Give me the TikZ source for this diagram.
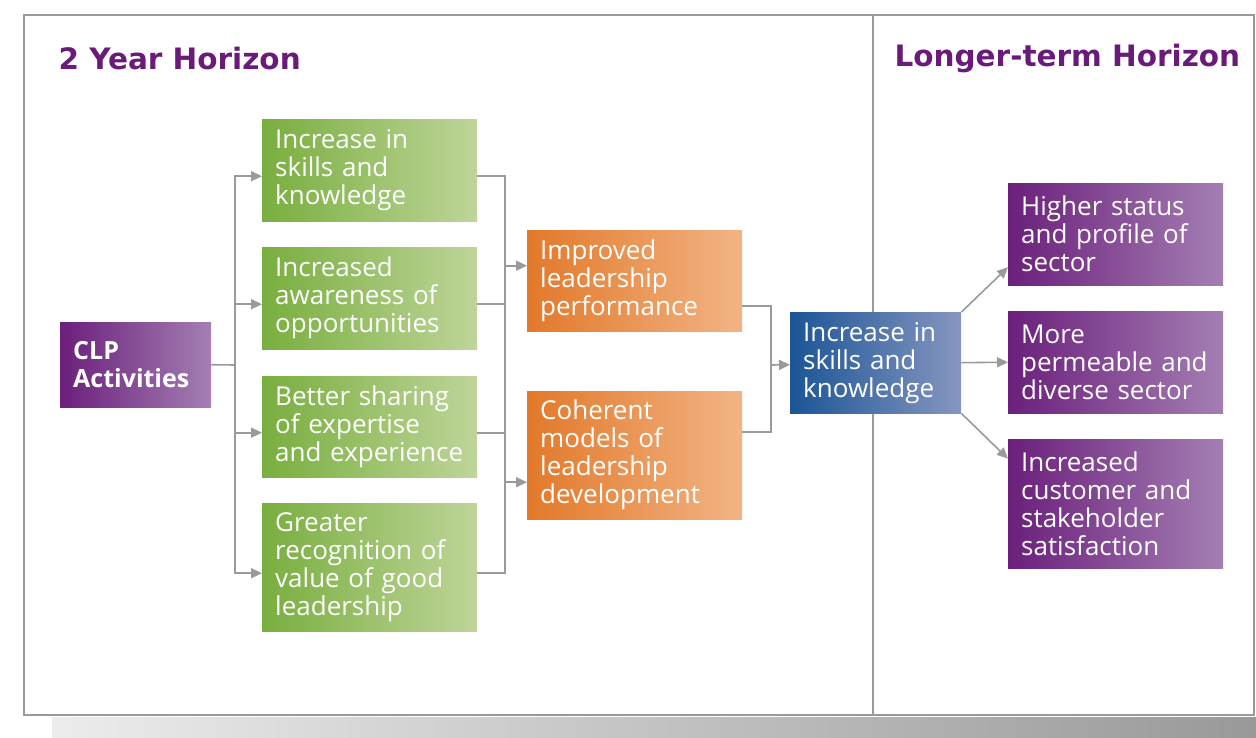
\documentclass[tikz,border=0pt]{standalone}
\usepackage{fontspec}
\setmainfont{Open Sans}
\newfontfamily\headfont{DejaVu Sans}
\usetikzlibrary{arrows.meta,positioning}

\definecolor{hzpurple}{HTML}{6A1B7A}
\definecolor{grnL}{HTML}{79AE3F}
\definecolor{grnR}{HTML}{BED599}
\definecolor{orgL}{HTML}{E2792A}
\definecolor{orgR}{HTML}{F2B485}
\definecolor{bluL}{HTML}{1B5596}
\definecolor{bluR}{HTML}{8796C0}
\definecolor{purL}{HTML}{6B1F7B}
\definecolor{purR}{HTML}{A47FB3}
\definecolor{connGray}{HTML}{9A9A9A}

\begin{document}
\begin{tikzpicture}[x=1pt,y=-1pt,
  box/.style={anchor=north west, text=white, align=left, inner xsep=13pt,
    inner ysep=0pt, font=\fontsize{26}{28}\selectfont},
  grnbox/.style={box, left color=grnL, right color=grnR, text width=189pt},
  orgbox/.style={box, left color=orgL, right color=orgR, text width=189pt},
  blubox/.style={box, left color=bluL, right color=bluR, text width=145pt},
  purbox/.style={box, left color=purL, right color=purR, text width=189pt},
  title/.style={anchor=west, text=hzpurple, font=\headfont\bfseries\fontsize{29.5}{32}\selectfont},
  conn/.style={draw=connGray, line width=1.6pt},
  arr/.style={conn, -{Triangle[length=11pt,width=10pt]}}]
  \useasboundingbox (0,0) rectangle (1256,737);

  % frame, divider and shadow strip
  \shade[left color=gray!15, right color=gray!80] (52,717) rectangle (1256,737);
  \draw[draw=gray!80, line width=2pt] (24,15) rectangle (1254,715);
  \draw[draw=gray!80, line width=2pt] (873,15) -- (873,715);

  % headings
  \node[title] (short) at (55,58) {2 Year Horizon};
  \node[title] (long) at (891,58) {Longer-term Horizon};

  % boxes
  \node[box, left color=purL, right color=purR, text width=125pt, minimum height=85pt,
    font=\bfseries\fontsize{25}{28}\selectfont] (clp) at (60,322) {CLP\\Activities};
  \node[grnbox, minimum height=102pt] (g1) at (262,119) {Increase in\\skills and\\knowledge};
  \node[grnbox, minimum height=102pt] (g2) at (262,247) {Increased\\awareness of\\opportunities};
  \node[grnbox, minimum height=101pt] (g3) at (262,376) {Better sharing\\of expertise\\and experience};
  \node[grnbox, minimum height=128pt] (g4) at (262,503) {Greater\\recognition of\\value of good\\leadership};
  \node[orgbox, minimum height=101pt] (o1) at (527,230) {Improved\\leadership\\performance};
  \node[orgbox, minimum height=128pt] (o2) at (527,391) {Coherent\\models of\\leadership\\development};
  \node[blubox, minimum height=101pt] (skills) at (790,312) {Increase in\\skills and\\knowledge};
  \node[purbox, minimum height=102pt] (p1) at (1008,183) {Higher status\\and profile of\\sector};
  \node[purbox, minimum height=102pt] (p2) at (1008,311) {More\\permeable and\\diverse sector};
  \node[purbox, minimum height=129pt] (p3) at (1008,439) {Increased\\customer and\\stakeholder\\satisfaction};

  % connectors
  \coordinate (bus1) at (235,365);
  \coordinate (bus2) at (505,370);
  \coordinate (bus3) at (771,365);
  \draw[conn] (clp.east) -- (bus1);
  \foreach \g/\s in {g1/-6,g2/-6,g3/-6,g4/-6}
    \draw[arr] (bus1) |- ([yshift=\s pt]\g.west);
  \foreach \g/\s in {g1/-6,g2/-6,g3/-6,g4/-6}
    \draw[conn] ([yshift=\s pt]\g.east) -| (bus2);
  \draw[arr] (bus2) |- ([yshift=15pt]o1.west);
  \draw[arr] (bus2) |- ([yshift=-27pt]o2.west);
  \draw[conn] ([yshift=-25pt]o1.east) -| (bus3);
  \draw[conn] ([yshift=23pt]o2.east) -| (bus3);
  \draw[arr] (bus3) -- ([yshift=-2pt]skills.west);
  \draw[arr] (skills.north east) -- ([yshift=-33pt]p1.west);
  \draw[arr] (skills.east) -- (p2.west);
  \draw[arr] (skills.south east) -- ([yshift=45pt]p3.west);
\end{tikzpicture}
\end{document}
